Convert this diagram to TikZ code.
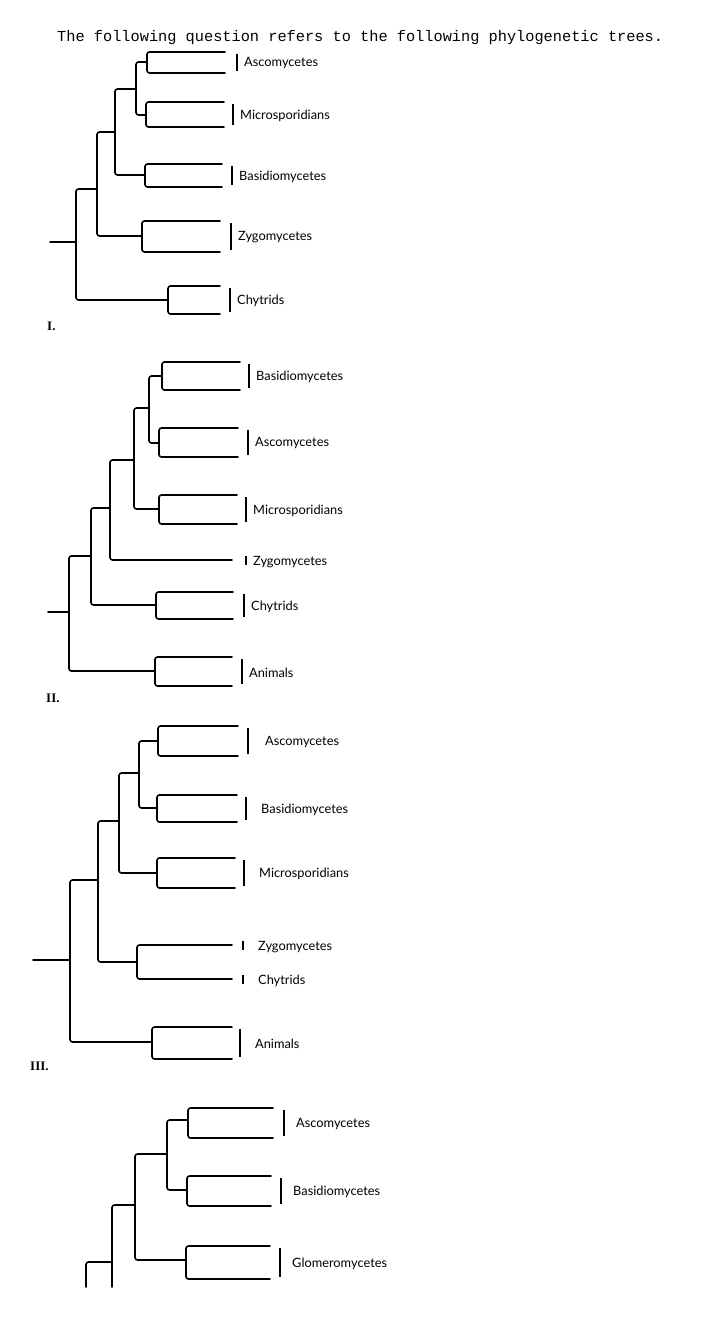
\documentclass[tikz,border=0pt]{standalone}
\usepackage{fontspec}
\setmainfont{Lato}
\newfontfamily\monof{Liberation Mono}
\newfontfamily\serf{Liberation Serif}
\tikzset{br/.style={line width=1.6pt,rounded corners=2.5pt,line cap=round},
 barl/.style={line width=2.2pt},
 lab/.style={anchor=west,inner sep=0pt,font=\fontsize{12.8}{14}\selectfont},
 num/.style={anchor=west,inner sep=0pt,font=\serf\fontsize{13}{14}\selectfont\bfseries}}
% clade: x, ytop, ybot, tipx, barx, label
\newcommand\myclade[6]{%
 \draw[br] (#4,#2) -- (#1,#2) -- (#1,#3) -- (#4,#3);
 \draw[barl] (#5,#2+2) -- (#5,#3-2);
 \node[lab] at (#5+7,{(#2+#3)/2+1}) {#6};}
\begin{document}
\begin{tikzpicture}[x=1pt,y=-1pt]
\useasboundingbox (0,0) rectangle (701,1332);
\fill[white] (0,0) rectangle (701,1332);
\node[anchor=west,inner sep=0pt,font=\monof\fontsize{15.3}{15}\selectfont] (title) at (57,38) {The following question refers to the following phylogenetic trees.};
% Tree I
\myclade{147}{52}{73}{225}{237}{Ascomycetes}
\myclade{146}{102}{127}{224}{233}{Microsporidians}
\myclade{145}{164}{187}{222}{232}{Basidiomycetes}
\myclade{142}{221}{252}{220}{231}{Zygomycetes}
\myclade{168}{286}{314}{220}{230}{Chytrids}
\draw[br] (147,62) -- (136,62) -- (136,115) -- (146,115);
\draw[br] (136,89) -- (115,89) -- (115,175) -- (145,175);
\draw[br] (115,132) -- (97,132) -- (97,236) -- (142,236);
\draw[br] (97,189) -- (76,189) -- (76,300) -- (168,300);
\draw[br] (50,242) -- (76,242);
\node[num] at (47,326) {I.};
% Tree II
\myclade{162}{362}{390}{240}{249}{Basidiomycetes}
\myclade{159}{428}{457}{238}{248}{Ascomycetes}
\myclade{159}{495}{524}{237}{246}{Microsporidians}
\myclade{156}{592}{619}{233}{244}{Chytrids}
\myclade{155}{657}{686}{232}{242}{Animals}
\draw[br] (162,376) -- (149,376) -- (149,443) -- (159,443);
\draw[br] (149,408) -- (134,408) -- (134,509) -- (159,509);
\draw[br] (134,460) -- (110,460) -- (110,560) -- (232,560);
\draw[barl] (246,556) -- (246,565);
\node[lab] at (253,562) {Zygomycetes};
\draw[br] (110,508) -- (91,508) -- (91,605) -- (156,605);
\draw[br] (91,556) -- (69,556) -- (69,671) -- (155,671);
\draw[br] (48,612) -- (69,612);
\node[num] at (46,698) {II.};
% Tree III
\myclade{158}{726}{756}{238}{248}{\hspace{10pt}Ascomycetes}
\myclade{157}{795}{822}{237}{246}{\hspace{8pt}Basidiomycetes}
\myclade{157}{858}{888}{235}{244}{\hspace{8pt}Microsporidians}
\myclade{152}{1027}{1059}{232}{240}{\hspace{8pt}Animals}
\draw[br] (158,741) -- (139,741) -- (139,808) -- (157,808);
\draw[br] (139,773) -- (119,773) -- (119,873) -- (157,873);
\draw[br] (232,945) -- (137,945) -- (137,979) -- (232,979);
\draw[barl] (243,941) -- (243,950);
\draw[barl] (243,975) -- (243,984);
\node[lab] at (258,947) {Zygomycetes};
\node[lab] at (258,981) {Chytrids};
\draw[br] (119,821) -- (98,821) -- (98,962) -- (137,962);
\draw[br] (98,880) -- (70,880) -- (70,1042) -- (152,1042);
\draw[br] (33,960) -- (70,960);
\node[num] at (30,1066) {III.};
% Tree IV
\myclade{188}{1108}{1138}{273}{284}{\hspace{5pt}Ascomycetes}
\myclade{187}{1176}{1206}{271}{281}{\hspace{5pt}Basidiomycetes}
\myclade{186}{1246}{1279}{270}{280}{\hspace{5pt}Glomeromycetes}
\draw[br] (188,1120) -- (167,1120) -- (167,1190) -- (187,1190);
\draw[br] (167,1154) -- (135,1154) -- (135,1260) -- (186,1260);
\draw[br] (135,1205) -- (112,1205) -- (112,1287);
\draw[br] (112,1262) -- (86,1262) -- (86,1287);
\end{tikzpicture}
\end{document}
